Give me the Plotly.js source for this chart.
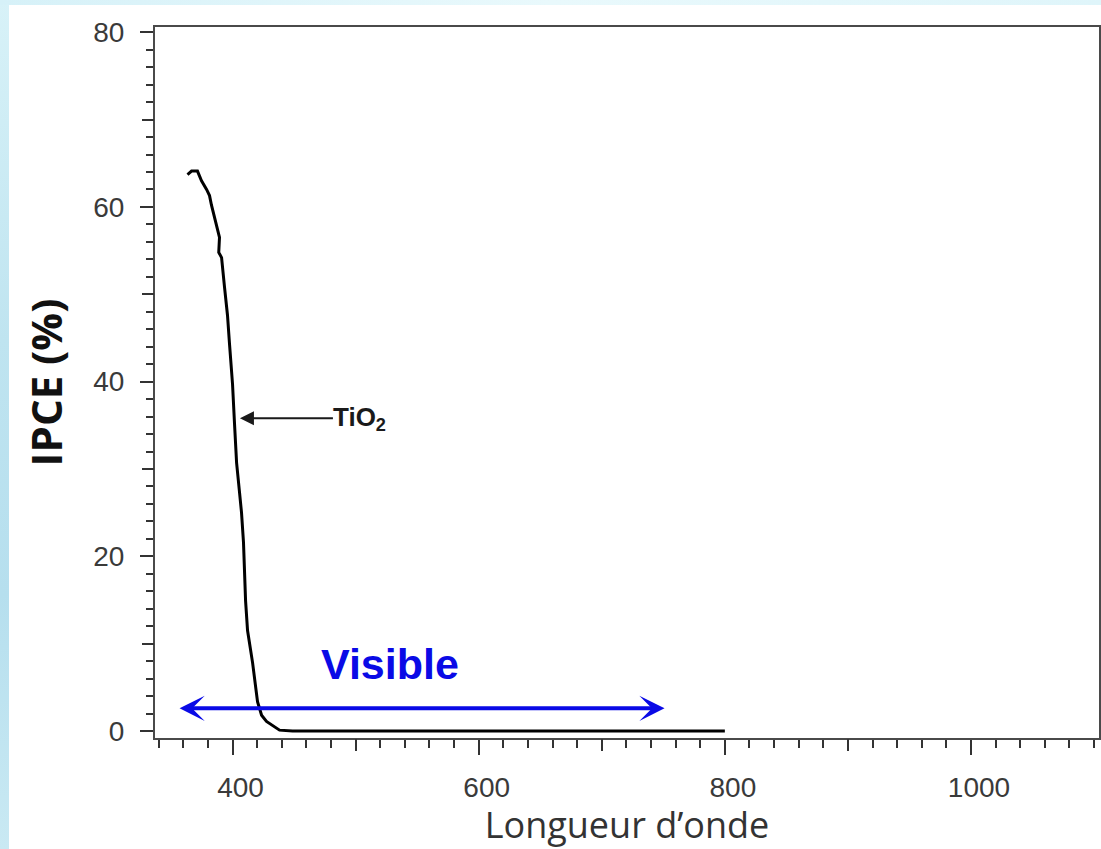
<!DOCTYPE html>
<html>
<head>
<meta charset="utf-8">
<script src="https://cdn.plot.ly/plotly-3.0.1.min.js"></script>
<style>
  html, body { margin: 0; padding: 0; background: #ffffff; }
  #wrap { position: relative; width: 1101px; height: 849px; overflow: hidden; background: #ffffff; }
  #leftStrip { position: absolute; left: 0; top: 0; width: 9px; height: 849px;
    background: linear-gradient(to bottom, #d8f2f8, #bfe4f0 40%, #b6dfee 70%, #c9e9f3); }
  #topStrip { position: absolute; left: 0; top: 0; width: 1101px; height: 5px;
    background: linear-gradient(to right, #d6f1f8, #e9f9fc 50%, #dff5fa); }
  #chart { position: absolute; left: 0; top: 0; width: 1101px; height: 849px; }
</style>
</head>
<body>
<div id="wrap">
  <div id="leftStrip"></div>
  <div id="topStrip"></div>
  <div id="chart"></div>
</div>
<script>
// Data (wavelength in nm, IPCE in %)
const wavelength = [363.4, 366.7, 371.5, 374.8, 378.9, 381.3, 382.9, 385.4, 387.0, 389.4, 388.8, 391.1, 393.5, 395.9, 397.6, 400.0, 401.6, 403.3, 405.7, 407.3, 408.9, 409.8, 410.6, 412.2, 416.3, 420.3, 423.6, 427.6, 438.2, 448.8, 500, 600, 700, 800];
const ipceTiO2   = [63.7, 64.1, 64.1, 63.0, 62.0, 61.3, 60.2, 58.8, 57.6, 56.5, 54.8, 54.2, 50.8, 47.6, 44.2, 39.7, 35.2, 30.7, 27.3, 25.0, 21.6, 18.2, 14.9, 11.5, 7.8, 3.35, 1.8, 1.1, 0.1, 0, 0, 0, 0, 0];

const xTickVals = [400, 600, 800, 1000];
const xTickText = ['400', '600', '800', '1000'];
const xMidTicks = [500, 700, 900];
const yTickVals = [0, 20, 40, 60, 80];
const yTickText = ['0', '20', '40', '60', '80'];
const yMidTicks = [10, 30, 50, 70];

const seriesLabel = 'TiO<sub>2</sub>';
const visibleLabel = 'Visible';
const visibleRange = [354.5, 751];
const visibleLevel = 2.6;
const arrowTarget = [406, 35.8];

const xRange = [337, 1104];
const yRange = [-0.8, 80.6];

const trace = {
  x: wavelength,
  y: ipceTiO2,
  type: 'scatter',
  mode: 'lines',
  line: { color: '#000000', width: 3, shape: 'linear' },
  hoverinfo: 'skip',
  showlegend: false
};
// invisible trace so the overlay axes (medium ticks) are drawn
const helper = {
  x: [xRange[0]], y: [yRange[0]], xaxis: 'x2', yaxis: 'y2',
  type: 'scatter', mode: 'markers', marker: { opacity: 0 },
  hoverinfo: 'skip', showlegend: false
};

const tickFont = { family: 'Liberation Sans, Arial, sans-serif', size: 28, color: '#3a3a3a' };

const layout = {
  width: 1101,
  height: 849,
  paper_bgcolor: 'rgba(0,0,0,0)',
  plot_bgcolor: '#ffffff',
  margin: { l: 155, r: 2, t: 27, b: 111 },
  showlegend: false,
  xaxis: {
    range: xRange, showgrid: false, zeroline: false,
    showline: true, linecolor: '#4a4a4a', linewidth: 2, mirror: true,
    ticks: 'outside', tickcolor: '#333333', tickwidth: 2, ticklen: 15,
    tickmode: 'array', tickvals: xTickVals, ticktext: xTickText,
    tickfont: tickFont, ticklabelstandoff: 8, ticklabelshift: 8,
    minor: { dtick: 20, tick0: 0, ticks: 'outside', ticklen: 8, tickwidth: 2, tickcolor: '#333333', showgrid: false },
    title: { text: 'Longueur d\u2019onde', font: { family: 'Open Sans, Noto Sans, sans-serif', size: 36, color: '#333333' }, standoff: 2 }
  },
  xaxis2: {
    overlaying: 'x', matches: 'x', range: xRange, showgrid: false, zeroline: false,
    showline: false, ticks: 'outside', tickcolor: '#333333', tickwidth: 2, ticklen: 12,
    tickmode: 'array', tickvals: xMidTicks, showticklabels: false, anchor: 'y'
  },
  yaxis: {
    range: yRange, showgrid: false, zeroline: false,
    showline: true, linecolor: '#4a4a4a', linewidth: 2, mirror: true,
    ticks: 'outside', tickcolor: '#333333', tickwidth: 2, ticklen: 13,
    tickmode: 'array', tickvals: yTickVals, ticktext: yTickText,
    tickfont: tickFont, ticklabelstandoff: 10,
    minor: { dtick: 2, tick0: 0, ticks: 'outside', ticklen: 7, tickwidth: 2, tickcolor: '#333333', showgrid: false },
    title: { text: '<b>IPCE (%)</b>', font: { family: 'Open Sans, Noto Sans, sans-serif', size: 42, color: '#111111' }, standoff: 18 }
  },
  yaxis2: {
    overlaying: 'y', matches: 'y', range: yRange, showgrid: false, zeroline: false,
    showline: false, ticks: 'outside', tickcolor: '#333333', tickwidth: 2, ticklen: 12,
    tickmode: 'array', tickvals: yMidTicks, showticklabels: false, anchor: 'x'
  },
  annotations: [
    {
      x: arrowTarget[0], y: arrowTarget[1], xref: 'x', yref: 'y',
      text: '<b>' + seriesLabel + '</b>',
      font: { family: 'Liberation Sans, Arial, sans-serif', size: 26, color: '#1a1a1a' },
      showarrow: true, arrowhead: 2, arrowsize: 1.4, arrowwidth: 2, arrowcolor: '#1a1a1a',
      ax: 120, ay: 0, axref: 'pixel', ayref: 'pixel', standoff: 0, borderpad: 0
    },
    {
      x: visibleRange[1], y: visibleLevel, xref: 'x', yref: 'y',
      ax: visibleRange[0], ay: visibleLevel, axref: 'x', ayref: 'y',
      showarrow: true, arrowside: 'end+start',
      arrowhead: 3, startarrowhead: 3, arrowsize: 1.05, startarrowsize: 1.05,
      arrowwidth: 4, arrowcolor: '#0a0ae6'
    },
    {
      x: (visibleRange[0] + visibleRange[1]) / 2 - 25, y: visibleLevel, xref: 'x', yref: 'y',
      yanchor: 'bottom', yshift: 18,
      text: '<b>' + visibleLabel + '</b>', showarrow: false,
      font: { family: 'Liberation Sans, Arial, sans-serif', size: 43, color: '#0a0ae6' }
    }
  ]
};

Plotly.newPlot('chart', [trace, helper], layout, { displayModeBar: false, staticPlot: true });
</script>
</body>
</html>
